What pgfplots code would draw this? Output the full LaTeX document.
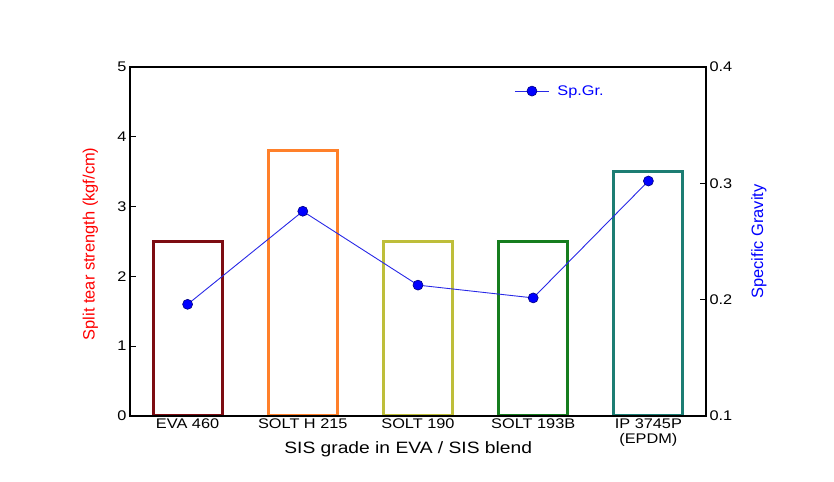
\documentclass[border=0pt]{standalone}
\usepackage{pgfplots}
\pgfplotsset{compat=1.18}
\usepackage{fontspec}
\setmainfont{Liberation Sans}
\newfontfamily\hf{Liberation Sans}[FakeStretch=1.17]
\definecolor{c1}{RGB}{125,12,18}
\definecolor{c2}{RGB}{255,128,42}
\definecolor{c3}{RGB}{190,190,58}
\definecolor{c4}{RGB}{22,125,30}
\definecolor{c5}{RGB}{28,125,115}
\definecolor{ln}{RGB}{40,40,230}
\begin{document}
\begin{tikzpicture}
\path[use as bounding box] (0,0) rectangle (834bp,482bp);
\begin{axis}[
  at={(130bp,66bp)}, anchor=south west,
  scale only axis, width=576bp, height=349bp,
  xmin=-0.5, xmax=4.5, ymin=0, ymax=5,
  ytick={0,1,2,3,4,5}, ytick pos=left,
  xtick={0,1,2,3,4},
  xticklabels={EVA 460, SOLT H 215, SOLT 190, SOLT 193B, {IP 3745P\\(EPDM)}},
  xticklabel style={align=center, font=\hf\fontsize{14}{15.5}\selectfont, yshift=1bp},
  major x tick style={draw=none},
  yticklabel style={font=\hf\fontsize{14}{15}\selectfont},
  /pgf/number format/assume math mode=true,
  major tick length=6bp, tick align=inside,
  axis line style={line width=1.1bp},
  major tick style={line width=1.1bp, black},
  axis on top,
  xlabel={SIS grade in EVA / SIS blend},
  xlabel style={font=\hf\fontsize{16.5}{18}\selectfont, at={(axis description cs:0.483,-0.095)}, anchor=center},
  ylabel={Split tear strength (kgf/cm)},
  ylabel style={font=\fontsize{16.5}{18}\selectfont, text=red, at={(axis description cs:-0.069,0.493)}, anchor=center, rotate=0},
]
\addplot[ybar, bar width=0.6, bar shift=0pt, draw=c1, line width=3bp, fill=none] coordinates {(0,2.5)};
\addplot[ybar, bar width=0.6, bar shift=0pt, draw=c2, line width=3bp, fill=none] coordinates {(1,3.8)};
\addplot[ybar, bar width=0.6, bar shift=0pt, draw=c3, line width=3bp, fill=none] coordinates {(2,2.5)};
\addplot[ybar, bar width=0.6, bar shift=0pt, draw=c4, line width=3bp, fill=none] coordinates {(3,2.5)};
\addplot[ybar, bar width=0.6, bar shift=0pt, draw=c5, line width=3bp, fill=none] coordinates {(4,3.5)};
\end{axis}
\begin{axis}[
  at={(130bp,66bp)}, anchor=south west,
  scale only axis, width=576bp, height=349bp,
  xmin=-0.5, xmax=4.5, ymin=0.1, ymax=0.4,
  axis x line=none, axis y line*=right,
  ytick={0.1,0.2,0.3,0.4},
  yticklabel style={font=\hf\fontsize{14}{15}\selectfont, /pgf/number format/.cd, fixed, fixed zerofill, precision=1},
  /pgf/number format/assume math mode=true,
  major tick length=6bp, tick align=inside,
  axis line style={line width=1.1bp, -},
  major tick style={line width=1.1bp, black},
  ylabel={Specific Gravity},
  ylabel style={font=\fontsize{16.5}{18}\selectfont, text=blue, at={(axis description cs:1.092,0.5)}, anchor=center, rotate=0},
  legend style={at={(axis description cs:0.662,0.931)}, anchor=west, draw=none, fill=none,
    font=\hf\fontsize{14}{15}\selectfont, text=blue, legend cell align=left},
  legend image code/.code={\draw[#1, mark repeat=2, mark phase=2] plot coordinates {(0bp,0bp) (17bp,0bp) (34bp,0bp)};},
]
\addplot[ln, line width=0.9bp, mark=*, mark size=5bp, mark options={fill=blue, draw=blue!50!black, line width=0.6bp}]
  coordinates {(0,0.196) (1,0.276) (2,0.2125) (3,0.2015) (4,0.302)};
\addlegendentry{\hspace{6bp}Sp.Gr.}
\end{axis}
\end{tikzpicture}
\end{document}
